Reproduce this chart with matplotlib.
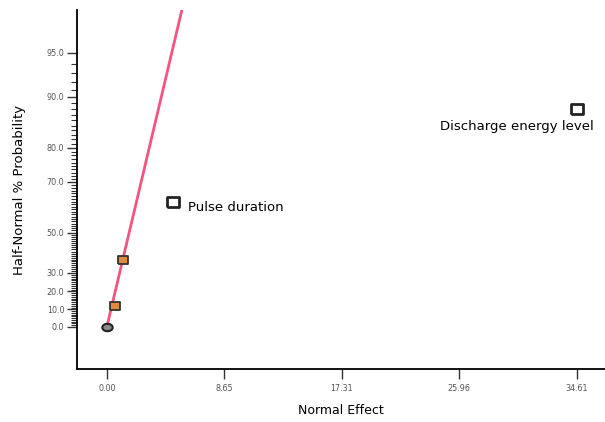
from statistics import NormalDist
import numpy as np
import matplotlib
matplotlib.use("Agg")
import matplotlib.pyplot as plt

# half-normal plot data
effects = [0.0, 0.59, 1.18, 4.87, 34.61]
probs = [0.0, 12.0, 37.0, 63.0, 88.0]
kinds = ["error", "error_term", "error_term", "model", "model"]
labels = ["", "", "", "Pulse duration", "Discharge energy level"]

ytick_pcts = [0, 10, 20, 30, 50, 70, 80, 90, 95]
xtick_vals = [0.00, 8.65, 17.31, 25.96, 34.61]
line_slope = 2.44  # effect per unit half-normal quantile


def hn(p):
    # half-normal quantile for a percentage
    if np.ndim(p) == 0:
        return NormalDist().inv_cdf(0.5 + p / 200.0)
    return np.array([NormalDist().inv_cdf(0.5 + v / 200.0) for v in p])


fig = plt.figure(figsize=(6.05, 4.22), dpi=100)
ax = fig.add_axes([0.127, 0.126, 0.873, 0.85])

# reference line
zline = np.linspace(0, 2.4, 50)
ax.plot(line_slope * zline, zline, color="#f2557f", lw=2, zorder=2)

rect = [(-1.35, -1), (1.35, -1), (1.35, 1), (-1.35, 1), (-1.35, -1)]
t = np.linspace(0, 2 * np.pi, 40)
ellipse = list(zip(1.4 * np.cos(t), np.sin(t)))
styles = {
    "error": dict(marker=ellipse, ms=7.5, mfc="#8a8a8a", mec="#222222", mew=1.5),
    "error_term": dict(marker=rect, ms=7, mfc="#e08a3c", mec="#333333", mew=1.3),
    "model": dict(marker=rect, ms=9, mfc="white", mec="#222222", mew=2.0),
}
for e, p, k in zip(effects, probs, kinds):
    ax.plot(e, hn(p), ls="none", zorder=3, **styles[k])

ax.annotate(labels[3], (effects[3], hn(probs[3])), xytext=(11, -4),
            textcoords="offset points", fontsize=9.5, va="center", ha="left")
ax.annotate(labels[4], (effects[4], hn(probs[4])), xytext=(12, -12),
            textcoords="offset points", fontsize=9.5, va="center", ha="right")

ax.set_xlim(-2.21, 36.7)
ax.set_ylim(-0.30, 2.265)

ax.set_yticks(hn(ytick_pcts))
ax.set_yticklabels([f"{v:.1f}" for v in ytick_pcts])
ax.set_yticks(hn(list(range(1, 95))), minor=True)
ax.set_xticks(xtick_vals)
ax.set_xticklabels([f"{v:.2f}" for v in xtick_vals])

for s in ["top", "right"]:
    ax.spines[s].set_visible(False)
ax.spines["left"].set_linewidth(1.3)
ax.spines["bottom"].set_linewidth(1.3)
ax.tick_params(axis="both", which="major", labelsize=5.8, labelcolor="#555555",
               length=7, width=1, color="#333333", pad=2)
ax.tick_params(axis="x", which="major", pad=4)
ax.tick_params(axis="y", which="minor", length=4, width=0.8, color="#333333")

ax.set_xlabel("Normal Effect", fontsize=9, labelpad=8)
ax.set_ylabel("Half-Normal % Probability", fontsize=9.5, labelpad=15)

fig.savefig("out.png", dpi=100)
